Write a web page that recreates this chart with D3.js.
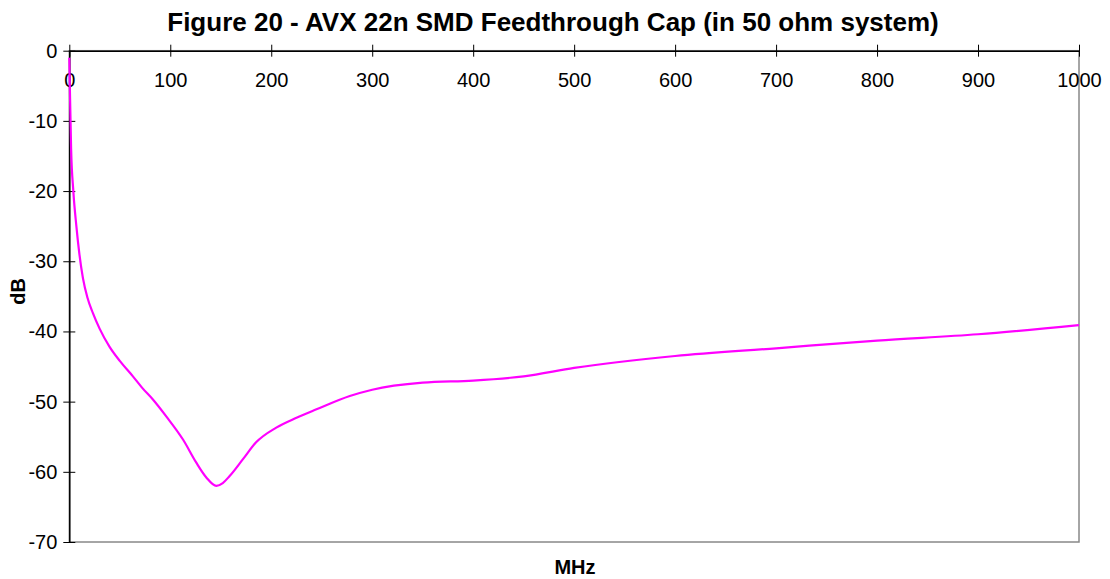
<!DOCTYPE html>
<html><head><meta charset="utf-8">
<script src="https://cdn.jsdelivr.net/npm/d3@7"></script>
<style>body{margin:0;background:#fff;font-family:"Liberation Sans",Arial,sans-serif}</style>
</head><body><svg id="c" width="1110" height="579"></svg>
<script>
const freqs = [0, 0.5, 1.8, 4, 7, 10, 13.5, 18, 23.4, 30, 39.9, 50, 63, 72, 82.8, 96, 112.6, 125.8, 135.7, 145.6, 152, 158.8, 172, 185, 205, 225, 244.8, 277.8, 300, 350, 400, 450, 500, 600, 700, 800, 900, 1000];
const dbVals = [-1, -5, -14, -20, -25, -29, -32.4, -35.2, -37.4, -39.6, -42.2, -44.2, -46.4, -48, -49.7, -52.1, -55.4, -58.7, -60.8, -62, -61.6, -60.6, -58.2, -55.8, -53.7, -52.3, -51.1, -49.2, -48.3, -47.3, -47, -46.4, -45.2, -43.5, -42.4, -41.3, -40.4, -39.1];
const xTicks = d3.range(0, 1001, 100);
const yTicks = d3.range(0, -71, -10);

const svg = d3.select("#c");
const L = 69.3, R = 1079, T = 50.7, B = 542;
const x = d3.scaleLinear().domain([0, 1000]).range([L, R]);
const y = d3.scaleLinear().domain([-70, 0]).range([B, T]);
const fmt = d => String(d);

// plot frame
svg.append("rect").attr("x", L).attr("y", T).attr("width", R - L).attr("height", B - T)
  .attr("fill", "none").attr("stroke", "#888").attr("stroke-width", 1.5);

// x axis along y = 0
const xa = svg.append("g").attr("transform", `translate(0,${y(0)})`)
  .call(d3.axisBottom(x).tickValues(xTicks).tickSize(0).tickPadding(22).tickFormat(fmt));
xa.select(".domain").attr("stroke", "#000").attr("stroke-width", 1.5);
xa.selectAll(".tick line").attr("y1", -6).attr("y2", 6).attr("stroke", "#000");
xa.selectAll("text").style("font-size", "20px").style("font-family", "Liberation Sans, Arial");

const ya = svg.append("g").attr("transform", `translate(${L},0)`)
  .call(d3.axisLeft(y).tickValues(yTicks).tickSize(0).tickPadding(12).tickFormat(fmt));
ya.select(".domain").attr("stroke", "#000").attr("stroke-width", 1.5);
ya.selectAll(".tick line").attr("x1", -6).attr("x2", 6).attr("stroke", "#000");
ya.selectAll("text").style("font-size", "20px").style("font-family", "Liberation Sans, Arial");

const line = d3.line().x((d, i) => x(freqs[i])).y(d => y(d)).curve(d3.curveMonotoneX);
svg.append("path").datum(dbVals).attr("d", line)
  .attr("fill", "none").attr("stroke", "#ff00ff").attr("stroke-width", 2.2);

svg.append("text").attr("x", 553).attr("y", 31).attr("text-anchor", "middle")
  .style("font-size", "26px").style("font-weight", "bold").text("Figure 20 - AVX 22n SMD Feedthrough Cap (in 50 ohm system)");
svg.append("text").attr("x", 575).attr("y", 574).attr("text-anchor", "middle")
  .style("font-size", "20px").style("font-weight", "bold").text("MHz");
svg.append("text").attr("transform", `translate(25,${(T + B) / 2 - 5}) rotate(-90)`).attr("text-anchor", "middle")
  .style("font-size", "20px").style("font-weight", "bold").text("dB");
</script></body></html>
